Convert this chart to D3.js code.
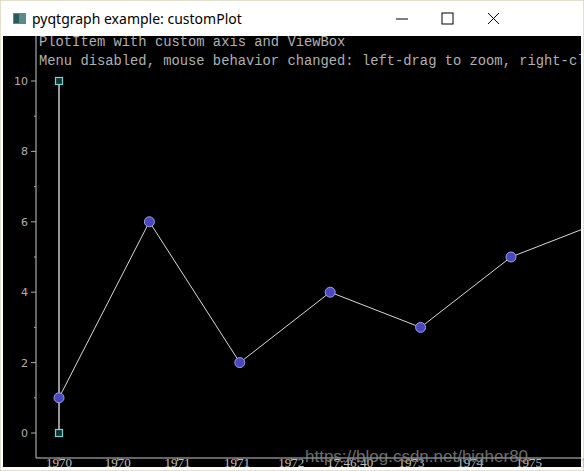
<!DOCTYPE html><html><head><meta charset="utf-8"><script src="https://cdn.jsdelivr.net/npm/d3@7"></script>
<style>body{margin:0;background:#fff}svg{display:block}</style></head><body><svg id="c" width="584" height="471"></svg><script>
const pointT=[0,1,2,3,4,5,6];
const pointY=[1,6,2,4,3,5,6];
const barT=[0,0];
const barY=[0,10];
const xTickT=[0,0.65,1.31,1.97,2.57,3.22,3.9,4.55,5.2,5.8];
const xTickLabels=["1970","1970","1971","1971","1972","17:46:40","1973","1974","1975","1"];
const yTicks=[0,1,2,3,4,5,6,7,8,9,10];
const titleText="pyqtgraph example: customPlot";
const lines=["PlotItem with custom axis and ViewBox","Menu disabled, mouse behavior changed: left-drag to zoom, right-click"];
const svg=d3.select("#c");
svg.append("rect").attr("x",0).attr("y",0).attr("width",584).attr("height",471).attr("fill","#fff").attr("stroke","#c8c0a0");
svg.append("rect").attr("x",3).attr("y",36).attr("width",578).attr("height",431).attr("fill","#000");
svg.append("rect").attr("x",13).attr("y",13).attr("width",13).attr("height",11).attr("fill","#5a8a8a");
svg.append("rect").attr("x",14).attr("y",14).attr("width",5).attr("height",9).attr("fill","#2a5a5a");
svg.append("text").attr("x",32).attr("y",24).text(titleText).attr("font-family","Noto Sans").attr("font-size",14).attr("fill","#000");
svg.append("line").attr("x1",396).attr("x2",408).attr("y1",19).attr("y2",19).attr("stroke","#000");
svg.append("rect").attr("x",442).attr("y",13).attr("width",11).attr("height",11).attr("fill","none").attr("stroke","#000");
svg.append("path").attr("d","M488,13L499,24M499,13L488,24").attr("stroke","#000");
const tg=svg.append("g").attr("clip-path","url(#cp2)");
svg.append("clipPath").attr("id","cp2").append("rect").attr("x",3).attr("y",36).attr("width",578).attr("height",431);
tg.selectAll("text.l").data(lines).join("text").attr("x",39).attr("y",(d,i)=>46+i*19).text(d=>d)
 .attr("font-family","Liberation Mono").attr("font-size",13.8).attr("fill","#b0b0b0");
const x=d3.scaleLinear().domain([0,1]).range([59,149.4]);
const y=d3.scaleLinear().domain([0,10]).range([433,81]);
svg.append("clipPath").attr("id","cp").append("rect").attr("x",36).attr("y",36).attr("width",545).attr("height",422);
const pg=svg.append("g").attr("clip-path","url(#cp)");
pg.append("path").datum(pointT.map((t,i)=>[t,pointY[i]])).attr("d",d3.line().x(d=>x(d[0])).y(d=>y(d[1])))
 .attr("fill","none").attr("stroke","#d8d8d8").attr("stroke-width",1);
pg.append("line").attr("x1",x(barT[0])).attr("x2",x(barT[1])).attr("y1",y(barY[0])).attr("y2",y(barY[1])).attr("stroke","#c8c8c8").attr("stroke-width",1.5);
pg.selectAll("rect.s").data(barY).join("rect").attr("x",x(0)-3.5).attr("y",d=>y(d)-3.5).attr("width",7).attr("height",7)
 .attr("fill","#113333").attr("stroke","#7fd0d0").attr("stroke-width",1.2);
pg.selectAll("circle").data(pointT).join("circle").attr("cx",d=>x(d)).attr("cy",(d,i)=>y(pointY[i])).attr("r",5)
 .attr("fill","#4848c0").attr("stroke","#a0a0e0").attr("stroke-width",1);
svg.append("line").attr("x1",36).attr("x2",36).attr("y1",36).attr("y2",458).attr("stroke","#c8c8c8");
svg.append("line").attr("x1",36).attr("x2",581).attr("y1",458).attr("y2",458).attr("stroke","#c8c8c8");
svg.selectAll("line.yt").data(yTicks).join("line").attr("x1",d=>d%2?34:31).attr("x2",36).attr("y1",d=>y(d)).attr("y2",d=>y(d)).attr("stroke","#aaa");
svg.selectAll("text.yl").data(yTicks.filter(d=>d%2==0)).join("text").attr("x",28).attr("y",d=>y(d)+4).attr("text-anchor","end")
 .text(d=>d).attr("font-family","DejaVu Sans").attr("font-size",11).attr("fill","#b0b0b0");
svg.selectAll("line.xt").data(xTickT).join("line").attr("x1",d=>x(d)).attr("x2",d=>x(d)).attr("y1",458).attr("y2",461).attr("stroke","#aaa");
svg.selectAll("text.xl").data(xTickT).join("text").attr("x",d=>x(d)).attr("y",467).attr("text-anchor","middle")
 .text((d,i)=>xTickLabels[i]).attr("font-family","Liberation Serif").attr("font-size",13).attr("fill","#c0c0c0");
svg.append("text").attr("x",305).attr("y",462).text("https://blog.csdn.net/higher80").attr("font-family","Liberation Sans").attr("font-size",17).attr("fill","#888").attr("opacity",0.8);
</script></body></html>
